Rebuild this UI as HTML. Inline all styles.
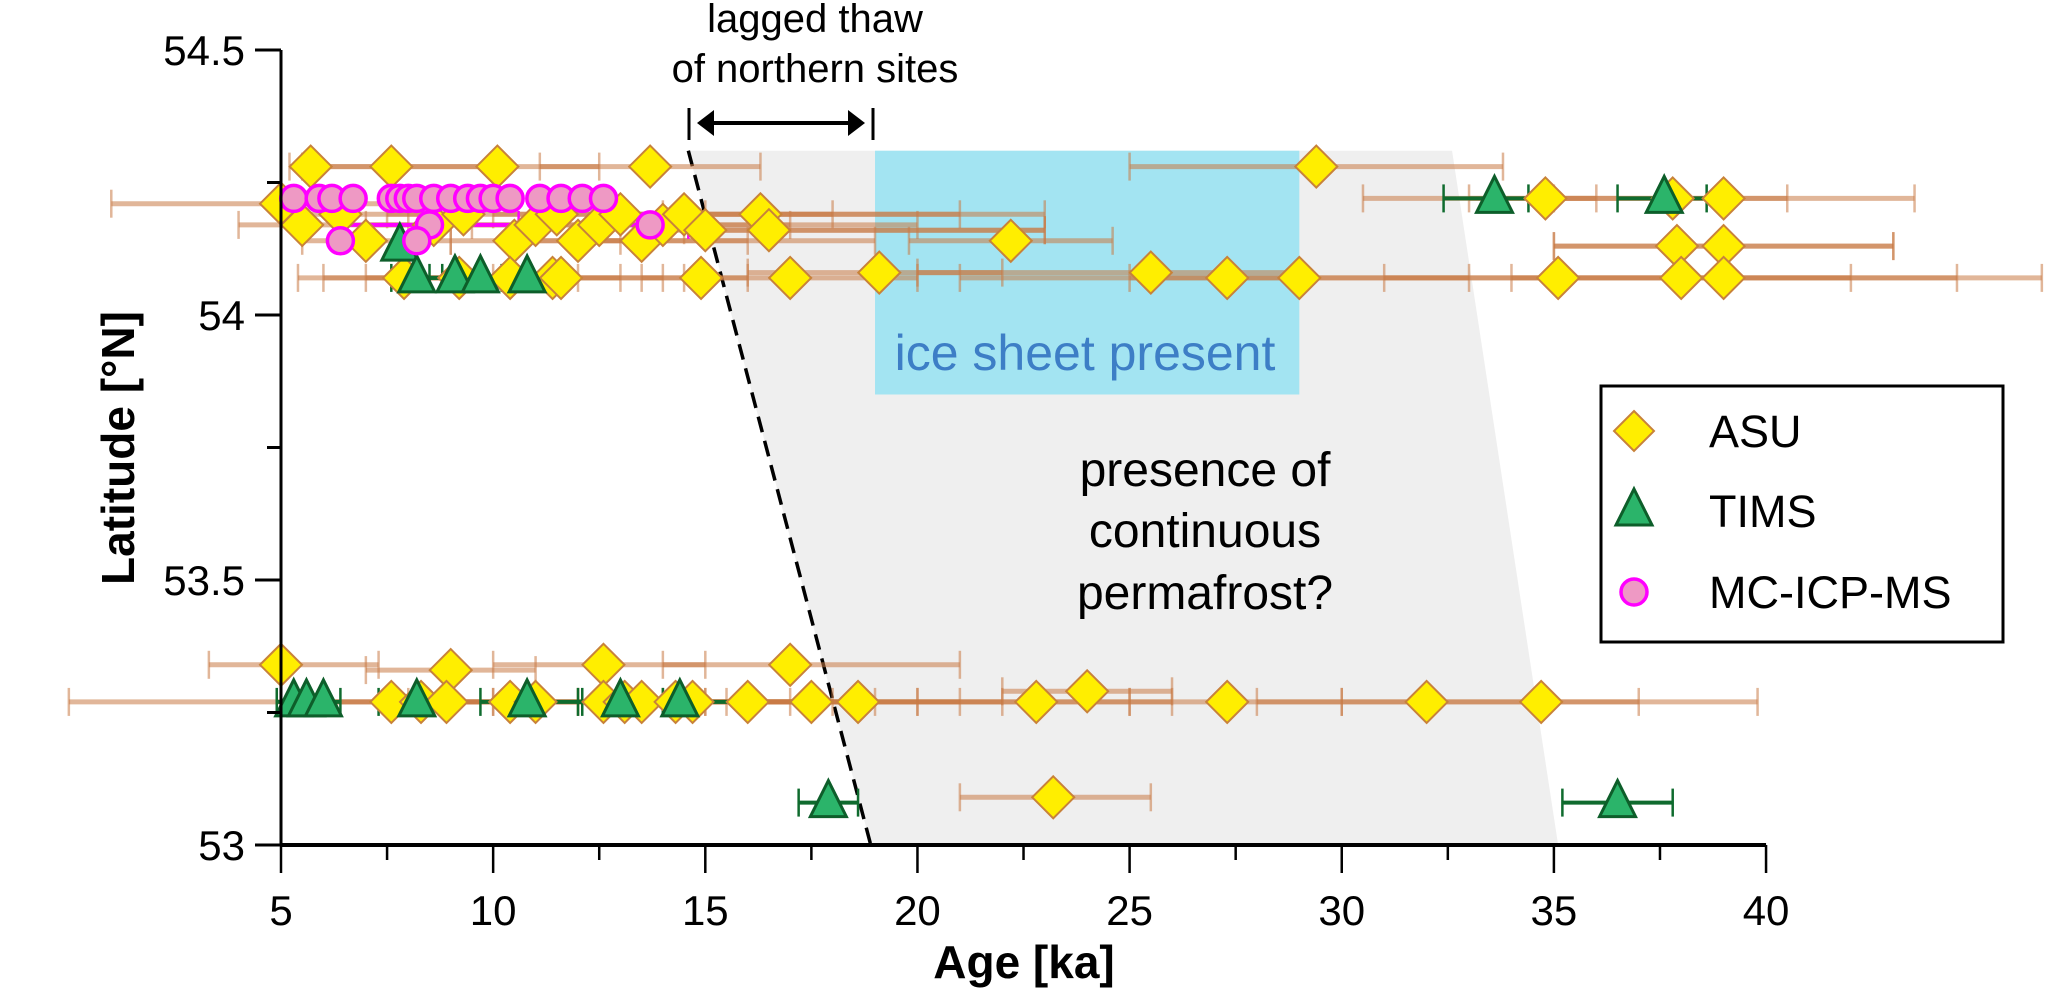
<!DOCTYPE html>
<html><head><meta charset="utf-8"><style>
body{margin:0;background:#fff}
svg{display:block;font-family:"Liberation Sans",sans-serif}
</style></head><body>
<svg id="chart" width="2067" height="991" viewBox="0 0 2067 991" xmlns="http://www.w3.org/2000/svg">
<g id="bg"></g><g id="err"></g><g id="marks"></g><g id="axes"></g>
</svg>
<script>
// ASU: age, lat, errLow, errHigh
const asuAge=[5.7,7.6,10.1,13.7,29.4, 5.0,34.8,37.8,39.0, 5.5,6.4,7.0,8.6,9.3,10.5,11.0,11.5,12.0,12.5,13.0,13.5,14.0,14.5,15.0,16.3,16.5, 22.2,37.9,39.0, 7.9,9.2,10.4,11.4,11.6,14.9,17.0,19.1,25.5,27.3,29.0,35.1,38.0,39.0, 5.0,9.0,12.6,17.0, 7.6,8.3,8.9,10.4,11.0,12.6,13.1,13.5,14.3,14.7,16.0,17.5,18.6,22.8,24.0,27.3,32.0,34.7, 23.2];
const asuLat=[54.28,54.28,54.28,54.28,54.28, 54.21,54.22,54.22,54.22, 54.17,54.19,54.14,54.17,54.19,54.14,54.17,54.19,54.14,54.17,54.19,54.14,54.17,54.19,54.16,54.19,54.16, 54.14,54.13,54.13, 54.07,54.07,54.07,54.07,54.07,54.07,54.07,54.08,54.08,54.07,54.07,54.07,54.07,54.07, 53.34,53.33,53.34,53.34, 53.27,53.27,53.27,53.27,53.27,53.27,53.27,53.27,53.27,53.27,53.27,53.27,53.27,53.27,53.29,53.27,53.27,53.27, 53.09];
const asuLo=[5.2,5.5,7.5,11.1,25.0, 1.0,33.0,35.0,30.5, 4.0,5.0,5.5,7.0,7.5,9.0,9.5,10.0,10.5,11.0,11.5,12.0,12.5,13.0,13.5,14.0,14.5, 19.8,35.0,35.0, 5.4,6.0,7.0,8.0,9.0,13.5,14.5,16.0,20.0,21.0,25.0,31.0,34.0,35.0, 3.3,7.0,10.0,14.0, 0.0,5.0,6.0,8.0,9.0,10.0,11.0,12.0,12.5,13.0,14.0,15.0,15.5,20.0,22.0,25.0,28.0,30.0, 21.0];
const asuHi=[7.6,10.0,12.5,16.3,33.8, 9.0,36.0,40.5,43.5, 8.0,9.0,9.0,11.0,11.5,13.0,14.0,15.0,16.0,17.0,18.0,19.0,20.0,21.0,23.0,23.0,23.0, 24.6,43.0,43.0, 10.0,12.0,13.0,14.0,15.0,16.0,20.0,22.0,29.0,33.0,35.0,42.0,44.5,46.5, 7.3,11.0,15.0,21.0, 10.0,11.0,12.0,14.0,15.0,16.0,17.0,18.0,19.0,20.0,21.0,22.0,25.0,26.0,26.0,30.0,37.0,39.8, 25.5];
// TIMS
const timsAge=[33.6,37.6,7.8,8.2,9.1,9.7,10.8,5.3,5.6,6.0,8.2,10.8,13.0,14.4,17.9,36.5];
const timsLat=[54.22,54.22,54.13,54.07,54.07,54.07,54.07,53.27,53.27,53.27,53.27,53.27,53.27,53.27,53.08,53.08];
const timsLo=[32.4,36.5,7.8,7.6,8.5,9.2,10.3,4.9,5.2,5.6,7.3,9.7,12.0,13.2,17.2,35.2];
const timsHi=[34.4,38.6,7.8,8.8,9.7,10.2,11.3,5.7,6.0,6.4,9.0,12.1,14.0,16.1,18.6,37.8];
// MC-ICP-MS
const mcAge=[5.3,5.9,6.2,6.7,7.6,7.8,8.0,8.2,8.6,9.0,9.4,9.7,10.0,10.4,11.1,11.6,12.1,12.6,8.5,13.7,6.4,8.2];
const mcLat=[54.22,54.22,54.22,54.22,54.22,54.22,54.22,54.22,54.22,54.22,54.22,54.22,54.22,54.22,54.22,54.22,54.22,54.22,54.17,54.17,54.14,54.14];
const mcLo=[5.3,5.9,6.2,6.7,7.6,7.8,8.0,8.2,8.6,9.0,9.4,9.7,10.0,10.4,11.1,11.6,12.1,12.6,6.3,12.5,6.4,8.2];
const mcHi=[5.3,5.9,6.2,6.7,7.6,7.8,8.0,8.2,8.6,9.0,9.4,9.7,10.0,10.4,10.4,11.6,12.1,12.6,10.6,14.6,6.4,8.2];
const xTicks=[5,10,15,20,25,30,35,40];
const xMinor=[7.5,12.5,17.5,22.5,27.5,32.5,37.5];
const yTicks=[53,53.5,54,54.5];
const yMinor=[53.25,53.75,54.25];

const X=a=>281+(a-5)*42.43;
const Y=l=>315-(l-54)*530;
const NS='http://www.w3.org/2000/svg';
function mk(parent,tag,attrs){const e=document.createElementNS(NS,tag);for(const k in attrs)e.setAttribute(k,attrs[k]);document.getElementById(parent).appendChild(e);return e;}

let e=mk('bg','polygon',{points:`${X(14.6)},${Y(54.31)} ${X(32.6)},${Y(54.31)} ${X(35.1)},${Y(53)} ${X(18.9)},${Y(53)}`,fill:'#efefef'});


e=mk('bg','rect',{x:X(19),y:Y(54.31),width:X(29)-X(19),height:Y(53.85)-Y(54.31),fill:'#a3e4f2'});


e=mk('bg','line',{x1:X(14.6),y1:Y(54.31),x2:X(18.9),y2:Y(53),stroke:'#000','stroke-width':3.5,'stroke-dasharray':'16,9'});



function errbar(a1,a2,l,col,op,w){
  if(a2-a1<0.05)return;
  const g=mk('err','g',{stroke:col,'stroke-opacity':op,'stroke-width':w});
  
  
  const y=Y(l);
  const ln=document.createElementNS(NS,'line');ln.setAttribute('x1',X(a1));ln.setAttribute('x2',X(a2));ln.setAttribute('y1',y);ln.setAttribute('y2',y);g.appendChild(ln);
  [a1,a2].forEach(a=>{const c=document.createElementNS(NS,'line');c.setAttribute('x1',X(a));c.setAttribute('x2',X(a));c.setAttribute('y1',y-14);c.setAttribute('y2',y+14);c.setAttribute('stroke-width',2.5);g.appendChild(c);});
}
asuAge.forEach((a,i)=>errbar(asuLo[i],asuHi[i],asuLat[i],'#c87a45',0.55,5));
timsAge.forEach((a,i)=>errbar(timsLo[i],timsHi[i],timsLat[i],'#0f6b2e',1,4));
mcAge.forEach((a,i)=>errbar(mcLo[i],mcHi[i],mcLat[i],'#ff00ff',1,4));

asuAge.forEach((a,i)=>{const x=X(a),y=Y(asuLat[i]);
  const d=mk('marks','polygon',{points:`${x},${y-21} ${x+21},${y} ${x},${y+21} ${x-21},${y}`,fill:'#ffee00',stroke:'#c8823a','stroke-width':2});
  
  });
timsAge.forEach((a,i)=>{const x=X(a),y=Y(timsLat[i]);
  const t=mk('marks','polygon',{points:`${x},${y-22} ${x+18},${y+14} ${x-18},${y+14}`,fill:'#2bb46a',stroke:'#0d5e2a','stroke-width':3});
  
  });
mcAge.forEach((a,i)=>{
  const c=mk('marks','circle',{cx:X(a),cy:Y(mcLat[i]),r:13,fill:'#ee99c4',stroke:'#ff00ff','stroke-width':3.5});
  
  });

e=mk('axes','line',{x1:281,y1:Y(54.5),x2:281,y2:Y(53),stroke:'#000','stroke-width':3});


e=mk('axes','line',{x1:281,y1:Y(53),x2:X(40),y2:Y(53),stroke:'#000','stroke-width':4});


xTicks.forEach(v=>{
  const t=mk('axes','line',{x1:X(v),x2:X(v),y1:845,y2:873,stroke:'#000','stroke-width':2.5});
  
  
  const l=mk('axes','text',{x:X(v),y:925,'text-anchor':'middle','font-size':42});
  l.textContent=v;
  
  });
xMinor.forEach(v=>{const t=mk('axes','line',{x1:X(v),x2:X(v),y1:845,y2:860,stroke:'#000','stroke-width':2.5});
  
  });
yTicks.forEach(v=>{
  const t=mk('axes','line',{x1:255,x2:281,y1:Y(v),y2:Y(v),stroke:'#000','stroke-width':3});
  
  
  const l=mk('axes','text',{x:245,y:Y(v)+15,'text-anchor':'end','font-size':42});
  l.textContent=v;
  
  });
yMinor.forEach(v=>{const t=mk('axes','line',{x1:267,x2:281,y1:Y(v),y2:Y(v),stroke:'#000','stroke-width':3});
  
  });
</script>
<svg style="position:absolute;left:0;top:0" width="2067" height="991" xmlns="http://www.w3.org/2000/svg" font-family="Liberation Sans, sans-serif">
<text x="1024" y="978" text-anchor="middle" font-size="46" font-weight="bold">Age [ka]</text>
<text transform="translate(134,448) rotate(-90)" text-anchor="middle" font-size="46" font-weight="bold">Latitude [°N]</text>
<text x="815" y="32" text-anchor="middle" font-size="40">lagged thaw</text>
<text x="815" y="82" text-anchor="middle" font-size="40">of northern sites</text>
<g stroke="#000" stroke-width="3">
<line x1="689" y1="108" x2="689" y2="140"/><line x1="873" y1="108" x2="873" y2="140"/>
<line x1="710" y1="123" x2="852" y2="123" stroke-width="4"/>
<polygon points="697,123 714,110 714,136" fill="#000" stroke="none"/>
<polygon points="865,123 848,110 848,136" fill="#000" stroke="none"/>
</g>
<text x="1085" y="370" text-anchor="middle" font-size="50" fill="#3d7ec6">ice sheet present</text>
<text x="1205" y="486" text-anchor="middle" font-size="48">presence of</text>
<text x="1205" y="547" text-anchor="middle" font-size="48">continuous</text>
<text x="1205" y="609" text-anchor="middle" font-size="48">permafrost?</text>
<g>
<rect x="1601" y="386" width="402" height="256" fill="#fff" stroke="#000" stroke-width="3"/>
<polygon points="1634,411 1654,431 1634,451 1614,431" fill="#ffee00" stroke="#c8823a" stroke-width="2"/>
<text x="1709" y="447" font-size="45">ASU</text>
<polygon points="1634,489 1652,525 1616,525" fill="#2bb46a" stroke="#0d5e2a" stroke-width="3"/>
<text x="1709" y="527" font-size="45">TIMS</text>
<circle cx="1634" cy="592" r="13" fill="#ee99c4" stroke="#ff00ff" stroke-width="3.5"/>
<text x="1709" y="608" font-size="45">MC-ICP-MS</text>
</g>
</svg>
</body></html>
